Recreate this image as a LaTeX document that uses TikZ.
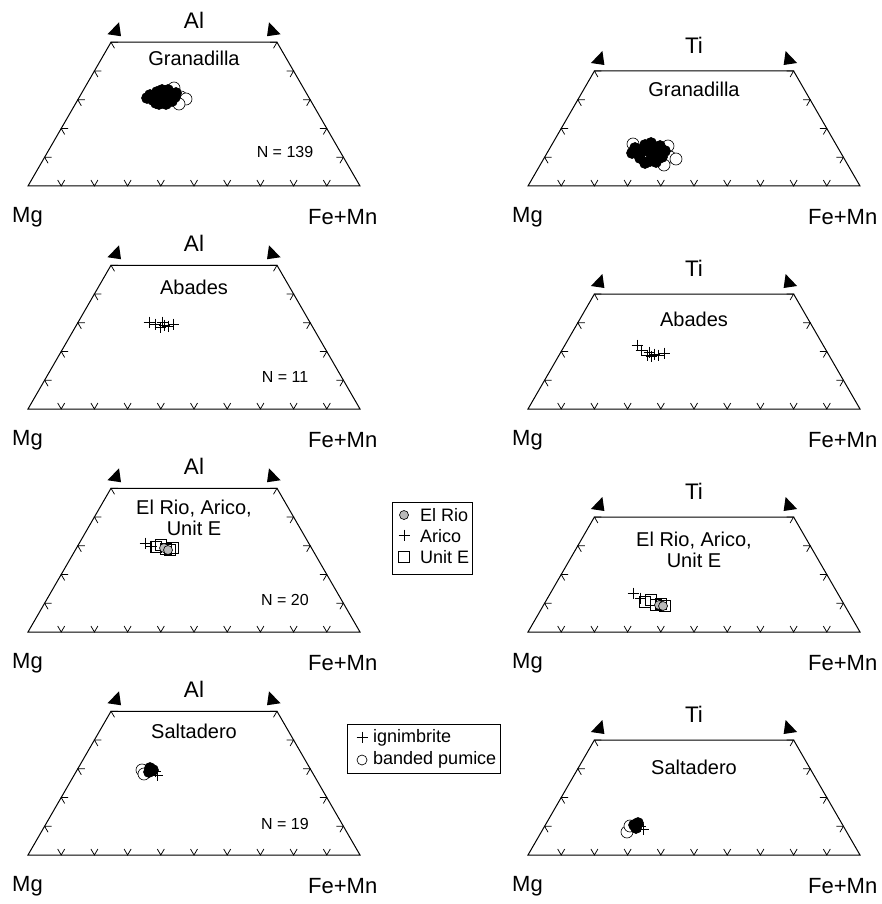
\documentclass[tikz,border=0pt]{standalone}
\usepackage{fontspec}
\setmainfont{Liberation Sans}

% Truncated ternary frame: #1 = left x, #2 = base y, #3 = top fraction
\newcommand\ternframe[3]{%
  \begin{scope}[shift={(#1,#2)}]
    \pgfmathsetmacro\tfx{166*#3}
    \pgfmathsetmacro\tfy{-287.5*#3}
    \pgfmathsetmacro\tfr{332-166*#3}
    \pgfmathtruncatemacro\nk{round(10*#3)}
    \draw[frame] (0,0) -- (332,0) -- (\tfr,\tfy) -- (\tfx,\tfy) -- cycle;
    \foreach \k in {1,...,9}{
      \draw[tickmark] (33.2*\k-3.5,-6) -- (33.2*\k,0) -- (33.2*\k+3.5,-6);
    }
    \foreach \k in {1,...,\nk}{
      \draw[tickmark] (16.6*\k+7,-28.75*\k) -- (16.6*\k,-28.75*\k) -- (16.6*\k+3.5,-28.75*\k+6);
      \draw[tickmark] (332-16.6*\k-7,-28.75*\k) -- (332-16.6*\k,-28.75*\k) -- (332-16.6*\k-3.5,-28.75*\k+6);
    }
    \fill[axhead] (\tfx-3.5,\tfy-8) -- (\tfx+8,\tfy-20) -- (\tfx+10,\tfy-6) -- cycle;
    \fill[axhead] (\tfr+3.5,\tfy-8) -- (\tfr-8,\tfy-20) -- (\tfr-10,\tfy-6) -- cycle;
  \end{scope}}

% Corner labels below a frame: #1 = left x, #2 = base y
\newcommand\ternends[2]{%
  \node[cornerlbl] at (#1-16,#2+31) {Mg};
  \node[cornerlbl] at (#1+280,#2+31) {Fe+Mn};}

% Data markers
\newcommand\mkplus[2]{\draw[mk] (#1-5.5,#2) -- (#1+5.5,#2) (#1,#2-5.5) -- (#1,#2+5.5);}
\newcommand\mkfull[2]{\filldraw[mk] (#1,#2) circle[radius=5.5];}
\newcommand\mkopen[2]{\draw[mk,fill=white] (#1,#2) circle[radius=6];}
\newcommand\mkgrey[2]{\draw[mk,fill=gray!55] (#1,#2) circle[radius=4.5];}
\newcommand\mksquare[2]{\draw[mk] (#1-5.5,#2-5.5) rectangle (#1+5.5,#2+5.5);}

\begin{document}
\begin{tikzpicture}[x=1pt,y=-1pt,
  frame/.style={line width=1pt},
  tickmark/.style={line width=0.75pt},
  axhead/.style={fill=black},
  axlbl/.style={font=\fontsize{22.5}{24}\selectfont, inner sep=0pt},
  cornerlbl/.style={font=\fontsize{22}{24}\selectfont, inner sep=0pt, anchor=west},
  namelbl/.style={font=\fontsize{20}{21}\selectfont, inner sep=0pt, align=center},
  nlbl/.style={font=\fontsize{16}{18}\selectfont, inner sep=0pt},
  legtxt/.style={font=\fontsize{18}{20}\selectfont, inner sep=0pt, anchor=west},
  legbox/.style={line width=0.7pt},
  mk/.style={line width=0.65pt}]
\useasboundingbox (0,0) rectangle (882,904);

% ---------- frames ----------
\ternframe{28}{186}{0.5}
\ternframe{28}{409}{0.5}
\ternframe{28}{632}{0.5}
\ternframe{28}{855}{0.5}
\ternframe{528}{186}{0.4}
\ternframe{528}{409}{0.4}
\ternframe{528}{632}{0.4}
\ternframe{528}{855}{0.4}

\ternends{28}{186}  \ternends{528}{186}
\ternends{28}{409}  \ternends{528}{409}
\ternends{28}{632}  \ternends{528}{632}
\ternends{28}{855}  \ternends{528}{855}

% ---------- axis labels ----------
\node[axlbl] (al1) at (194,20) {Al};
\node[axlbl] (al2) at (194,243) {Al};
\node[axlbl] (al3) at (194,466) {Al};
\node[axlbl] (al4) at (194,689) {Al};
\node[axlbl] (ti1) at (694,45) {Ti};
\node[axlbl] (ti2) at (694,268) {Ti};
\node[axlbl] (ti3) at (694,491) {Ti};
\node[axlbl] (ti4) at (694,714) {Ti};

% ---------- unit names ----------
\node[namelbl] (n1l) at (194,58) {Granadilla};
\node[namelbl] (n1r) at (694,89) {Granadilla};
\node[namelbl] (n2l) at (194,287) {Abades};
\node[namelbl] (n2r) at (694,319) {Abades};
\node[namelbl] (n3l) at (194,518) {El Rio, Arico,\\Unit E};
\node[namelbl] (n3r) at (694,550) {El Rio, Arico,\\Unit E};
\node[namelbl] (n4l) at (194,731) {Saltadero};
\node[namelbl] (n4r) at (694,767) {Saltadero};

\node[nlbl] (c1) at (285,152) {N = 139};
\node[nlbl] (c2) at (285,377) {N = 11};
\node[nlbl] (c3) at (285,600) {N = 20};
\node[nlbl] (c4) at (285,824) {N = 19};

% ---------- Granadilla ----------
\foreach \p/\q in {181/97,186/99,179/104,174/88}{\mkopen{\p}{\q}}
\foreach \p/\q in {150/95,153/100,157/92,160/97,163/101,165/93,168/98,171/94,172/101,175/97,156/103,162/90,168/90,147/98,176/93,159/104,166/104}{\mkfull{\p}{\q}}
\foreach \p/\q in {670/157,676/159,668/146,664/165,633/144}{\mkopen{\p}{\q}}
\foreach \p/\q in {635/148,640/153,645/145,648/151,652/156,655/147,658/152,662/157,640/158,650/161,660/146,665/151,632/153,645/163,656/162,651/143}{\mkfull{\p}{\q}}

% ---------- Abades ----------
\foreach \p/\q in {149/322,155/324,160/327,164/325,168/326,173/324,162/322}{\mkplus{\p}{\q}}
\foreach \p/\q in {637/345,641/350,647/355,651/356,654/354,658/355,664/353,649/352}{\mkplus{\p}{\q}}

% ---------- El Rio, Arico, Unit E ----------
\foreach \p/\q in {145/543,151/546}{\mkplus{\p}{\q}}
\foreach \p/\q in {156/547,161/545,166/549,170/550,173/548}{\mksquare{\p}{\q}}
\foreach \p/\q in {164/548,168/550}{\mkgrey{\p}{\q}}
\foreach \p/\q in {633/593,640/598}{\mkplus{\p}{\q}}
\foreach \p/\q in {645/602,651/600,656/605,661/604,665/606}{\mksquare{\p}{\q}}
\foreach \p/\q in {659/605,663/606}{\mkgrey{\p}{\q}}

% ---------- Saltadero ----------
\foreach \p/\q in {142/770,144/774}{\mkopen{\p}{\q}}
\foreach \p/\q in {150/768,153/770,149/772}{\mkfull{\p}{\q}}
\foreach \p/\q in {157/775,155/771}{\mkplus{\p}{\q}}
\foreach \p/\q in {627/832,630/826}{\mkopen{\p}{\q}}
\foreach \p/\q in {634/825,638/823,636/828}{\mkfull{\p}{\q}}
\foreach \p/\q in {643/829,640/826}{\mkplus{\p}{\q}}

% ---------- legends ----------
\draw[legbox] (392,502) rectangle (472,574);
\draw[mk,fill=gray!55] (404,515) circle[radius=4.5];
\node[legtxt] (lg1) at (420,515) {El Rio};
\draw[mk] (398.5,535) -- (409.5,535) (404,529.5) -- (404,540.5);
\node[legtxt] (lg2) at (420,536) {Arico};
\draw[mk] (398.5,551.5) rectangle (409.5,562.5);
\node[legtxt] (lg3) at (420,557) {Unit E};

\draw[legbox] (347,724) rectangle (500,773);
\draw[mk] (356.5,737) -- (367.5,737) (362,731.5) -- (362,742.5);
\node[legtxt] (lg4) at (373,738) {ignimbrite};
\draw[mk] (362,760) circle[radius=5];
\node[legtxt] (lg5) at (373,760) {banded pumice};
\end{tikzpicture}
\end{document}
